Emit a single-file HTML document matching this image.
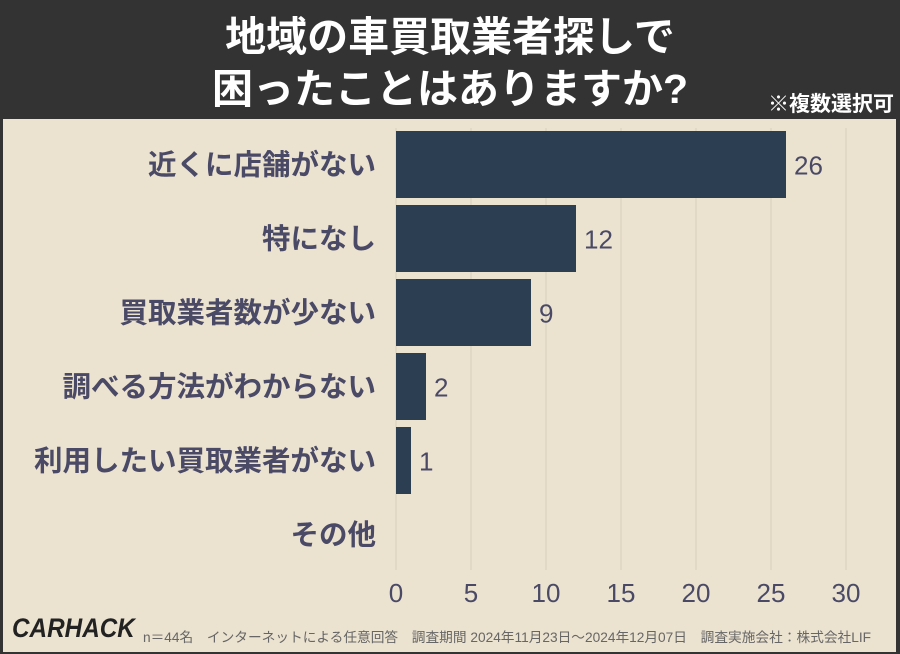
<!DOCTYPE html>
<html><head><meta charset="utf-8"><style>
body{margin:0;width:900px;height:654px;overflow:hidden;background:#333;font-family:"Liberation Sans","Noto Sans CJK JP",sans-serif;}
#frame{position:absolute;left:0;top:0;width:900px;height:654px;background:#333;}
#bg{position:absolute;left:3px;top:119px;width:893px;height:533px;background:#ebe2d0;}
#title{position:absolute;left:0;top:11px;width:900px;text-align:center;color:#fff;font-weight:bold;font-size:41px;line-height:52px;}
#note{position:absolute;right:6px;top:93px;color:#fff;font-weight:bold;font-size:21px;line-height:24px;}
#foot{position:absolute;left:143px;top:626px;color:#666;font-size:13.7px;white-space:nowrap;}
#logo{position:absolute;left:12px;top:613px;font-size:27px;font-weight:bold;font-style:italic;color:#222;transform:scaleX(0.9);transform-origin:left;}
svg{position:absolute;left:0;top:0}
</style></head><body>
<div id="frame"></div>
<div id="bg"></div>
<div id="title">地域の車買取業者探しで<br>困ったことはありますか?</div>
<div id="note">※複数選択可</div>
<svg id="chart" width="900" height="654"></svg>
<div id="logo">CARHACK</div>
<div id="foot">n＝44名　インターネットによる任意回答　調査期間 2024年11月23日～2024年12月07日　調査実施会社：株式会社LIF</div>
<script>
const categories=["近くに店舗がない","特になし","買取業者数が少ない","調べる方法がわからない","利用したい買取業者がない","その他"];
const values=[26,12,9,2,1,0];
const ticks=[0,5,10,15,20,25,30];
const svg=document.getElementById('chart');
const NS='http://www.w3.org/2000/svg';
const x0=396,x1=846,xmax=30;
const xs=v=>x0+(x1-x0)*v/xmax;
const rowTop=131,pitch=74,bh=67;
const ys=i=>rowTop+i*pitch;
function mk(t,a){const e=document.createElementNS(NS,t);for(const k in a)e.setAttribute(k,a[k]);svg.appendChild(e);return e;}
ticks.forEach(t=>{
 const g=mk('line',{x1:xs(t),x2:xs(t),y1:128,y2:570,stroke:'#d8cfbd','stroke-width':1});
 
 
 const l=mk('text',{x:xs(t),y:602,'text-anchor':'middle','font-size':26,fill:'#4a4a66'});
 l.textContent=t;
 
 
});
categories.forEach((c,i)=>{
 const y=ys(i);
 const lab=mk('text',{x:376,y:y+bh/2+10,'text-anchor':'end','font-size':28.5,'font-weight':'bold',fill:'#4a4a66'});
 lab.textContent=c;
 
 
 if(values[i]>0){
  const r=mk('rect',{x:x0,y:y,width:xs(values[i])-x0,height:bh,fill:'#2c3e52'});
  
  
  const v=mk('text',{x:xs(values[i])+8,y:y+bh/2+10,'font-size':26,fill:'#4a4a66'});
  v.textContent=values[i];
  
  
 }
});
</script>
</body></html>
